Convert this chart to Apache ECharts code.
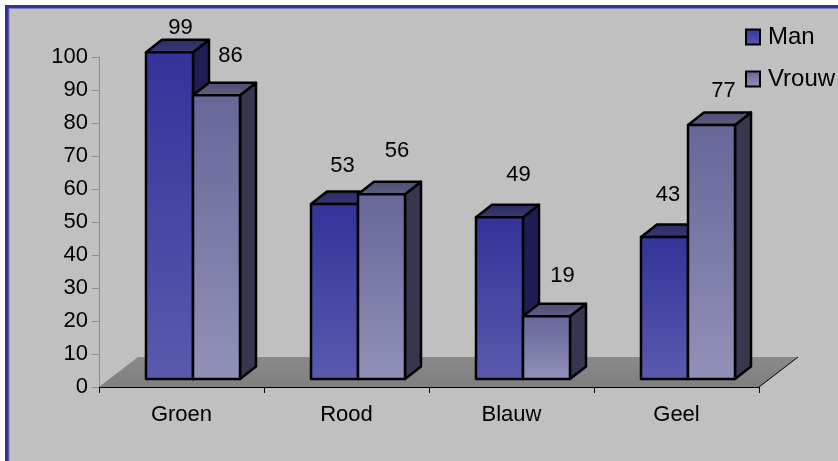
<!DOCTYPE html>
<html>
<head>
<meta charset="utf-8">
<style>html,body{margin:0;padding:0;background:#fff}#chart{width:838px;height:461px}</style>
<script src="https://cdn.jsdelivr.net/npm/echarts@6/dist/echarts.min.js"></script>
</head>
<body>
<div id="chart"></div>
<script>
const categories = ['Groen', 'Rood', 'Blauw', 'Geel'];
const man = [99, 53, 49, 43];
const vrouw = [86, 56, 19, 77];
const yTicks = { min: 0, max: 100, interval: 10 };

// Offsets of each value label from the top-centre of its bar front.
const manLabelOffsets = [[11, -24], [8, -38], [19, -42], [3.5, -42]];
const vrouwLabelOffsets = [[14, -39], [15.5, -43], [16, -40], [12, -34]];

const FONT = '"Liberation Sans", Arial, sans-serif';
const BAR_W = 47, LIFT = 8, DX = 16, DY = 12.5;
const FLOOR_DX = 39, FLOOR_DY = 30;

const vGrad = (a, b) => new echarts.graphic.LinearGradient(0, 0, 0, 1, [
  { offset: 0, color: a }, { offset: 1, color: b }
]);

const palette = {
  Man:   { front: ['#333399', '#5a5aae'], top: ['#2b2b60', '#3a3a7a'], side: '#1e1e55' },
  Vrouw: { front: ['#666699', '#9191b8'], top: ['#4e4e72', '#5f5f85'], side: '#36364e' }
};

const edge = { stroke: '#000', lineWidth: 2.5, lineJoin: 'round' };

// Draws one bar as three polygons (front, top, side) plus its value label.
function barRenderer(name, side, offsets) {
  return function (params, api) {
    const cat = api.value(0), val = api.value(1);
    const mid = api.coord([cat, val])[0];
    const divider = mid + 11.5;
    const x0 = side === 0 ? divider - BAR_W : divider;
    const x1 = x0 + BAR_W;
    const yTop = api.coord([cat, val])[1] - LIFT;
    const yBase = api.coord([cat, 0])[1] - LIFT;
    const c = palette[name];
    const off = offsets[params.dataIndex];
    return {
      type: 'group',
      children: [
        { type: 'polygon', shape: { points: [[x1, yTop], [x1 + DX, yTop - DY], [x1 + DX, yBase - DY], [x1, yBase]] },
          style: Object.assign({ fill: c.side }, edge) },
        { type: 'polygon', shape: { points: [[x0, yTop], [x0 + DX, yTop - DY], [x1 + DX, yTop - DY], [x1, yTop]] },
          style: Object.assign({ fill: vGrad(c.top[0], c.top[1]) }, edge) },
        { type: 'rect', shape: { x: x0, y: yTop, width: BAR_W, height: yBase - yTop },
          style: Object.assign({ fill: vGrad(c.front[0], c.front[1]) }, edge) },
        { type: 'text', style: {
            text: String(val), x: (x0 + x1) / 2 + off[0], y: yTop + off[1],
            align: 'center', verticalAlign: 'middle', fill: '#000', font: '22px ' + FONT } }
      ]
    };
  };
}

// Grey floor plane under the bars, with the dark right-hand edge.
function floorRenderer(params, api) {
  const g = params.coordSys;
  const bottom = g.y + g.height, left = g.x, right = g.x + g.width;
  return {
    type: 'group',
    children: [
      { type: 'polygon', shape: { points: [[left, bottom], [left + FLOOR_DX, bottom - FLOOR_DY], [right + FLOOR_DX, bottom - FLOOR_DY], [right, bottom]] },
        style: { fill: vGrad('#8a8a8a', '#7f7f7f') } },
      { type: 'line', shape: { x1: right, y1: bottom, x2: right + FLOOR_DX, y2: bottom - FLOOR_DY },
        style: { stroke: '#000', lineWidth: 1 } }
    ]
  };
}

const chart = echarts.init(document.getElementById('chart'));
chart.setOption({
  animation: false,
  backgroundColor: '#fff',
  graphic: [
    { type: 'rect', z: -10, silent: true, shape: { x: 5, y: 5, width: 833, height: 456 }, style: { fill: '#333399' } },
    { type: 'rect', z: -9, silent: true, shape: { x: 8.5, y: 8, width: 829.5, height: 453 }, style: { fill: '#7c7cb8' } },
    { type: 'rect', z: -8, silent: true, shape: { x: 9.5, y: 9, width: 828.5, height: 452 }, style: { fill: '#c0c0c0' } }
  ],
  grid: { left: 99, right: 79, top: 57, bottom: 74 },
  legend: {
    orient: 'vertical', left: 745, top: 25, padding: 0, itemWidth: 14, itemHeight: 15, itemGap: 18,
    textStyle: { fontFamily: FONT, fontSize: 24, color: '#000', padding: [0, 0, 8, 3] },
    data: [
      { name: 'Man', icon: 'rect', itemStyle: { color: vGrad(palette.Man.front[0], palette.Man.front[1]), borderColor: '#000', borderWidth: 2 } },
      { name: 'Vrouw', icon: 'rect', itemStyle: { color: vGrad(palette.Vrouw.front[0], palette.Vrouw.front[1]), borderColor: '#000', borderWidth: 2 } }
    ]
  },
  xAxis: {
    type: 'category', data: categories, z: 5,
    axisLine: { show: true, lineStyle: { color: '#000', width: 1 } },
    axisTick: { show: true, length: 6, lineStyle: { color: '#000' } },
    axisLabel: { margin: 17, fontFamily: FONT, fontSize: 22, color: '#000' },
    splitLine: { show: false }
  },
  yAxis: {
    type: 'value', min: yTicks.min, max: yTicks.max, interval: yTicks.interval, z: 5,
    axisLine: { show: true, lineStyle: { color: '#8c8c8c', width: 1 } },
    axisTick: { show: true, length: 7, lineStyle: { color: '#8c8c8c' } },
    axisLabel: { margin: 11, fontFamily: FONT, fontSize: 22, color: '#000', padding: [3, 0, 0, 0] },
    splitLine: { show: false }
  },
  series: [
    { type: 'custom', z: 1, silent: true, data: [[0, 0]], renderItem: floorRenderer, clip: false },
    { type: 'custom', name: 'Man', z: 2, silent: true, clip: false, renderItem: barRenderer('Man', 0, manLabelOffsets),
      encode: { x: 0, y: 1 }, data: man.map((v, i) => [i, v]) },
    { type: 'custom', name: 'Vrouw', z: 3, silent: true, clip: false, renderItem: barRenderer('Vrouw', 1, vrouwLabelOffsets),
      encode: { x: 0, y: 1 }, data: vrouw.map((v, i) => [i, v]) }
  ]
});
</script>
</body>
</html>
